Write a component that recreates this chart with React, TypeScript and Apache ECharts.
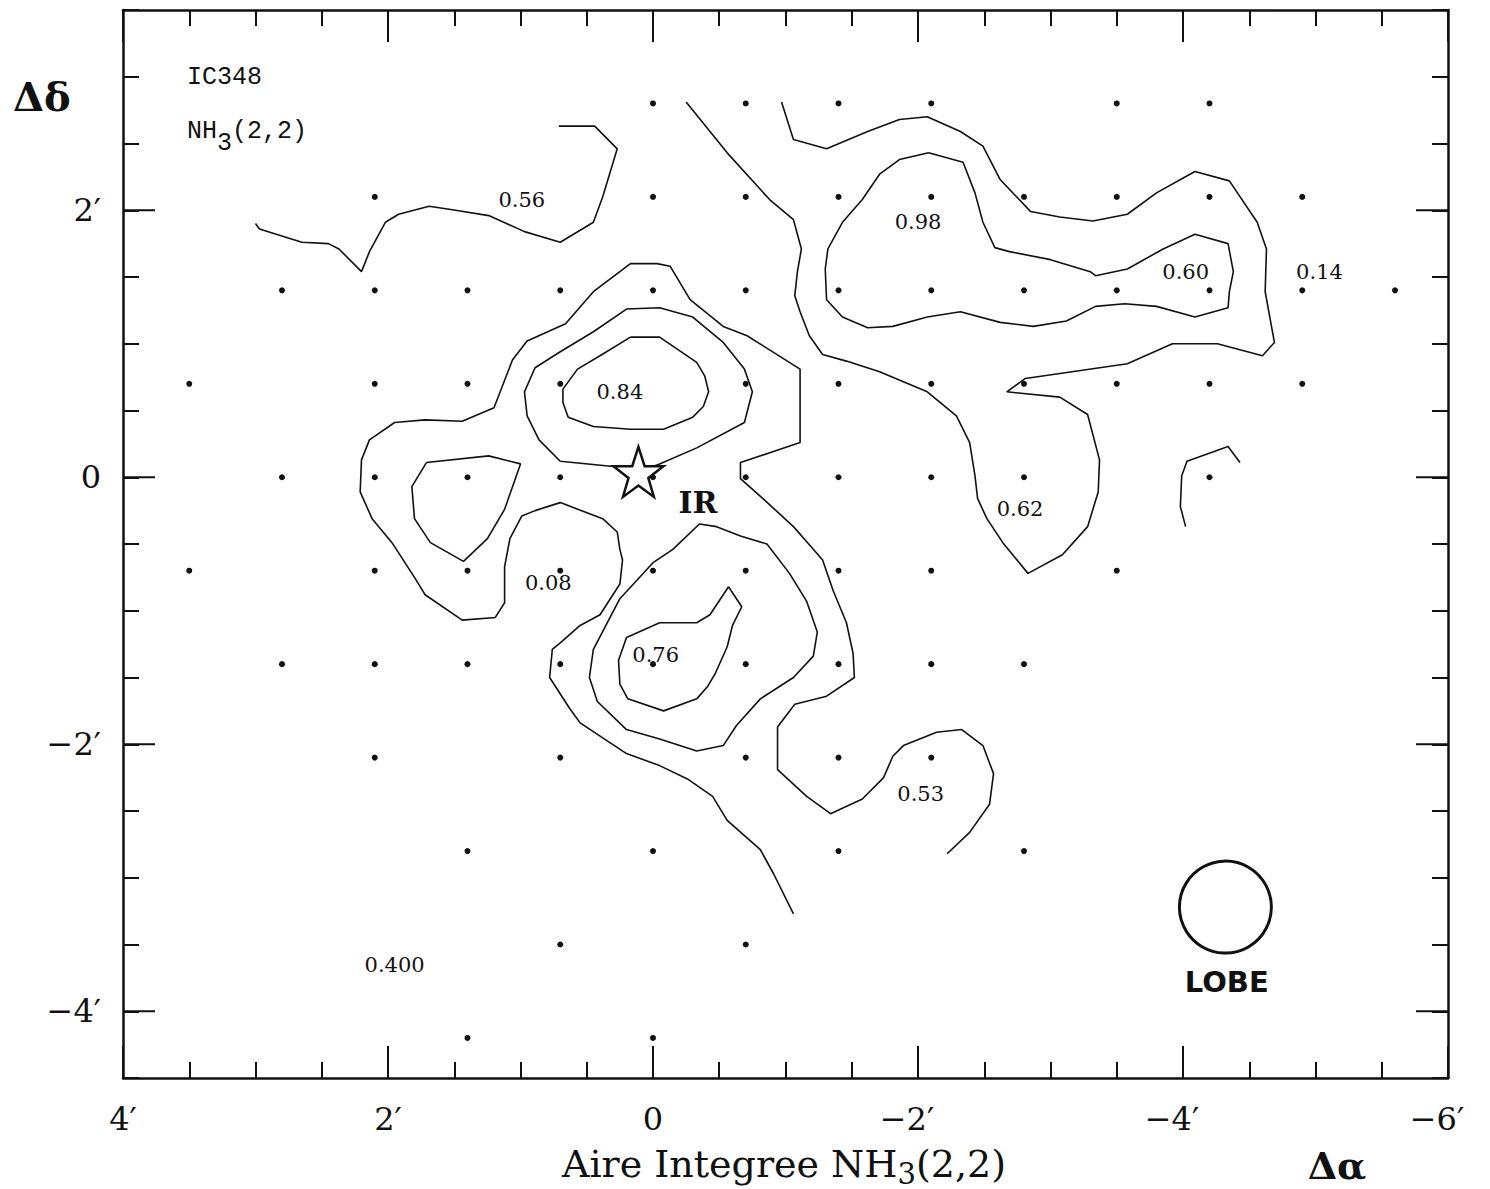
import React, { useEffect, useRef } from "react";
import * as echarts from "echarts";

// Axis extents (arcmin offsets)
const X_MIN = -6;
const X_MAX = 4;
const Y_MIN = -4.5;
const Y_MAX = 3.5;
const yMajorTicks = [-4, -2, 0, 2];

// Observed positions (grid rows, declination offsets) and RA offsets per row
const dotRowY = [2.8, 2.1, 1.4, 0.7, 0, -0.7, -1.4, -2.1, -2.8, -3.5, -4.2];
const dotRowXs = [
  [0, -0.7, -1.4, -2.1, -3.5, -4.2],
  [2.1, 0, -0.7, -1.4, -2.1, -2.8, -3.5, -4.2, -4.9],
  [2.8, 2.1, 1.4, 0.7, 0, -0.7, -1.4, -2.1, -2.8, -3.5, -4.2, -4.9, -5.6],
  [3.5, 2.1, 1.4, 0.7, -0.7, -1.4, -2.1, -2.8, -3.5, -4.2, -4.9],
  [2.8, 2.1, 1.4, 0.7, 0, -0.7, -1.4, -2.1, -2.8, -4.2],
  [3.5, 2.1, 1.4, 0.7, 0, -0.7, -1.4, -2.1, -3.5],
  [2.8, 2.1, 1.4, 0.7, 0, -0.7, -1.4, -2.1, -2.8],
  [2.1, 0.7, -0.7, -1.4, -2.1],
  [1.4, 0, -1.4, -2.8],
  [0.7, -0.7],
  [1.4, 0],
];

// Contour lines [dAlpha, dDelta]
const contourA = [[3.0, 1.9], [2.97, 1.86], [2.65, 1.76], [2.45, 1.75], [2.37, 1.71], [2.2, 1.54], [2.14, 1.69], [2.02, 1.91], [1.92, 1.97], [1.69, 2.03], [1.49, 2.0], [1.24, 1.96], [0.97, 1.84], [0.7, 1.76], [0.45, 1.91], [0.38, 2.1], [0.27, 2.46], [0.44, 2.63], [0.71, 2.63]];
const contourB = [[-0.25, 2.81], [-0.56, 2.43], [-0.88, 2.08], [-1.06, 1.93], [-1.12, 1.71], [-1.09, 1.54], [-1.07, 1.36], [-1.11, 1.24], [-1.18, 1.06], [-1.28, 0.92], [-1.46, 0.87], [-1.71, 0.79], [-2.07, 0.64], [-2.29, 0.46], [-2.39, 0.26], [-2.43, 0.01], [-2.45, -0.16], [-2.52, -0.31], [-2.64, -0.49], [-2.83, -0.72], [-3.09, -0.58], [-3.28, -0.37], [-3.36, -0.11], [-3.37, 0.13], [-3.28, 0.47], [-3.07, 0.6], [-2.67, 0.64], [-2.81, 0.74], [-3.58, 0.85], [-3.92, 1.0], [-4.26, 1.0], [-4.6, 0.91], [-4.69, 1.01], [-4.62, 1.39], [-4.63, 1.71], [-4.56, 1.91], [-4.35, 2.22], [-4.09, 2.29], [-3.8, 2.13], [-3.58, 1.97], [-3.32, 1.92], [-3.07, 1.95], [-2.85, 1.99], [-2.62, 2.23], [-2.49, 2.48], [-2.32, 2.59], [-2.07, 2.7], [-1.86, 2.68], [-1.62, 2.59], [-1.31, 2.46], [-1.06, 2.53], [-0.97, 2.81]];
const contourC = [[-2.08, 2.43], [-2.34, 2.36], [-2.43, 2.13], [-2.49, 1.91], [-2.58, 1.72], [-2.69, 1.69], [-3.0, 1.63], [-3.3, 1.54], [-3.34, 1.51], [-3.58, 1.56], [-3.85, 1.71], [-4.09, 1.82], [-4.34, 1.75], [-4.38, 1.54], [-4.35, 1.39], [-4.34, 1.27], [-4.09, 1.2], [-3.8, 1.28], [-3.56, 1.3], [-3.34, 1.28], [-3.12, 1.17], [-2.87, 1.13], [-2.62, 1.16], [-2.32, 1.24], [-2.07, 1.2], [-1.81, 1.13], [-1.62, 1.12], [-1.43, 1.2], [-1.31, 1.33], [-1.3, 1.56], [-1.32, 1.71], [-1.43, 1.91], [-1.58, 2.08], [-1.71, 2.27], [-1.86, 2.38], [-2.08, 2.43]];
const contourE = [[-4.02, -0.37], [-3.98, -0.22], [-3.99, 0.01], [-4.03, 0.12], [-4.34, 0.23], [-4.43, 0.11]];
const contourF = [[-2.22, -2.82], [-2.39, -2.66], [-2.54, -2.45], [-2.57, -2.22], [-2.49, -2.01], [-2.33, -1.89], [-2.14, -1.91], [-1.89, -2.01], [-1.81, -2.09], [-1.74, -2.25], [-1.58, -2.41], [-1.34, -2.52], [-1.16, -2.39], [-0.94, -2.19], [-0.94, -2.01], [-0.94, -1.87], [-1.07, -1.7], [-1.31, -1.64], [-1.52, -1.5], [-1.51, -1.32], [-1.46, -1.09], [-1.36, -0.85], [-1.28, -0.62], [-1.21, -0.54], [-1.06, -0.37], [-0.83, -0.16], [-0.66, -0.01], [-0.66, 0.11], [-1.11, 0.26], [-1.11, 0.81], [-0.71, 1.06], [-0.53, 1.13], [-0.28, 1.33], [-0.13, 1.58], [-0.03, 1.6], [0.17, 1.6], [0.45, 1.39], [0.66, 1.15], [0.95, 1.02], [1.06, 0.88], [1.2, 0.52], [1.44, 0.42], [1.72, 0.43], [1.95, 0.41], [2.14, 0.28], [2.2, 0.13], [2.21, -0.11], [2.12, -0.31], [1.97, -0.49], [1.8, -0.75], [1.72, -0.88], [1.44, -1.07], [1.19, -1.05], [1.12, -0.94], [1.12, -0.67], [1.08, -0.46], [0.99, -0.29], [0.89, -0.25], [0.7, -0.19], [0.38, -0.31], [0.27, -0.41], [0.25, -0.54], [0.23, -0.62], [0.25, -0.8], [0.4, -1.03], [0.55, -1.11], [0.7, -1.24], [0.76, -1.29], [0.78, -1.5], [0.63, -1.73], [0.55, -1.84], [0.2, -2.07], [-0.05, -2.16], [-0.26, -2.26], [-0.45, -2.39], [-0.56, -2.57], [-0.81, -2.79], [-0.91, -2.97], [-1.06, -3.27]];
const contourG = [[0.7, 0.12], [0.3, 0.08], [0.12, 0.04], [-0.05, 0.1], [-0.33, 0.22], [-0.69, 0.41], [-0.75, 0.64], [-0.69, 0.81], [-0.53, 1.01], [-0.3, 1.2], [-0.05, 1.27], [0.2, 1.26], [0.45, 1.09], [0.7, 0.94], [0.89, 0.82], [0.97, 0.64], [0.95, 0.46], [0.86, 0.28], [0.7, 0.12]];
const contourH = [[1.71, 0.11], [1.24, 0.16], [1.0, 0.1], [1.12, -0.24], [1.25, -0.46], [1.43, -0.63], [1.68, -0.49], [1.8, -0.31], [1.82, -0.07], [1.71, 0.11]];
const contourI = [[0.17, 1.05], [-0.05, 1.05], [-0.33, 0.86], [-0.39, 0.76], [-0.42, 0.64], [-0.38, 0.53], [-0.3, 0.45], [-0.08, 0.36], [0.17, 0.36], [0.45, 0.38], [0.64, 0.45], [0.68, 0.56], [0.68, 0.66], [0.57, 0.81], [0.4, 0.91], [0.17, 1.05]];
const contourJ = [[-0.15, -0.54], [-0.35, -0.35], [-0.48, -0.37], [-0.66, -0.44], [-0.86, -0.5], [-1.03, -0.72], [-1.16, -0.93], [-1.24, -1.16], [-1.21, -1.34], [-1.06, -1.5], [-0.81, -1.66], [-0.63, -1.86], [-0.53, -2.01], [-0.33, -2.05], [-0.05, -1.96], [0.2, -1.89], [0.42, -1.68], [0.48, -1.5], [0.45, -1.29], [0.25, -0.91], [0.0, -0.64], [-0.15, -0.54]];
const contourK = [[-0.57, -0.82], [-0.67, -0.97], [-0.6, -1.11], [-0.56, -1.27], [-0.47, -1.47], [-0.41, -1.57], [-0.33, -1.66], [-0.08, -1.75], [0.19, -1.66], [0.25, -1.55], [0.26, -1.37], [0.2, -1.2], [-0.05, -1.09], [-0.33, -1.09], [-0.43, -1.03], [-0.57, -0.82]];
const contours = [contourA, contourB, contourC, contourE, contourF, contourG, contourH, contourI, contourJ, contourK];

// Contour value labels
const labelTexts = ["0.56", "0.98", "0.60", "0.14", "0.84", "0.62", "0.08", "0.76", "0.53", "0.400"];
const labelX = [0.99, -2.0, -4.02, -5.03, 0.25, -2.77, 0.79, -0.02, -2.02, 1.95];
const labelY = [2.08, 1.91, 1.54, 1.54, 0.64, -0.24, -0.79, -1.33, -2.37, -3.65];

// Markers
const starPos = [0.11, 0.04];
const irPos = [-0.34, -0.19];
const lobePos = [-4.32, -3.22];
const lobeLabelPos = [-4.33, -3.78];

const STAR_PATH =
  "path://M50,0 L61.8,35.1 L97.6,35.1 L68.9,56.7 L79.4,91 L50,70.4 L20.6,91 L31.1,56.7 L2.4,35.1 L38.2,35.1 Z";

const INK = "#111111";
const SERIF = "'DejaVu Serif', 'Liberation Serif', serif";

function fmtTick(v: number): string {
  if (Math.abs(v) < 1e-9) return "0";
  return (v < 0 ? "\u2212" : "") + Math.abs(v) + "\u2032";
}

export default function App() {
  const ref = useRef<HTMLDivElement>(null);

  useEffect(() => {
    if (!ref.current) return;
    const chart = echarts.init(ref.current, undefined, { renderer: "svg" });

    const dots: number[][] = [];
    dotRowY.forEach((y, i) => dotRowXs[i].forEach((x) => dots.push([x, y])));

    const xAxisBase = {
      type: "value",
      min: X_MIN,
      max: X_MAX,
      inverse: true,
      interval: 2,
      splitLine: { show: false },
      axisLine: { show: true, onZero: false, lineStyle: { color: INK, width: 2.5 } },
      axisTick: { show: true, inside: true, length: 32, lineStyle: { color: INK, width: 2 } },
      minorTick: { show: true, splitNumber: 4, length: 16, lineStyle: { color: INK, width: 2 } },
    };
    const yAxisBase = {
      type: "value",
      min: Y_MIN,
      max: Y_MAX,
      interval: 0.5,
      splitLine: { show: false },
      axisLine: { show: true, onZero: false, lineStyle: { color: INK, width: 2.5 } },
      axisTick: { show: true, inside: true, length: 16, lineStyle: { color: INK, width: 2 } },
    };

    const contourSeries = contours.map((c) => ({
      type: "line",
      data: c,
      symbol: "none",
      showSymbol: false,
      silent: true,
      z: 2,
      lineStyle: { color: INK, width: 1.6 },
    }));

    const textMarker = (name: string, value: number[], label: any) => ({
      type: "scatter",
      data: [{ name, value }],
      symbolSize: 1,
      silent: true,
      z: 6,
      itemStyle: { color: "transparent", opacity: 1 },
      label: { show: true, position: "inside", formatter: "{b}", color: INK, ...label },
    });

    const option = {
      animation: false,
      backgroundColor: "#ffffff",
      grid: { left: 123, top: 10, right: 42, bottom: 111, containLabel: false },
      xAxis: [
        {
          ...xAxisBase,
          position: "bottom",
          axisLabel: {
            show: true,
            margin: 25,
            color: INK,
            fontFamily: SERIF,
            fontSize: 32,
            formatter: (v: number) => (v < 0 ? "{m|" + fmtTick(v) + "}" : fmtTick(v)),
            rich: {
              m: { fontFamily: SERIF, fontSize: 32, color: INK, padding: [0, 22, 0, 0] },
            },
          },
        },
        { ...xAxisBase, position: "top", axisLabel: { show: false } },
      ],
      yAxis: [
        {
          ...yAxisBase,
          position: "left",
          axisLabel: {
            show: true,
            margin: 22,
            color: INK,
            fontFamily: SERIF,
            fontSize: 32,
            formatter: (v: number) =>
              yMajorTicks.some((t) => Math.abs(t - v) < 1e-6) ? fmtTick(v) : "",
          },
        },
        { ...yAxisBase, position: "right", axisLabel: { show: false } },
      ],
      graphic: [
        {
          type: "text",
          left: 13,
          top: 76,
          style: { text: "\u0394\u03b4", fontFamily: SERIF, fontWeight: "bold", fontSize: 40, fill: INK },
        },
        {
          type: "text",
          x: 187,
          y: 77,
          style: { text: "IC348", fontFamily: "'Liberation Mono', monospace", fontSize: 25, fill: INK, textVerticalAlign: "middle" },
        },
        {
          type: "text",
          x: 187,
          y: 131,
          style: { text: "NH", fontFamily: "'Liberation Mono', monospace", fontSize: 25, fill: INK, textVerticalAlign: "middle" },
        },
        {
          type: "text",
          x: 217,
          y: 143,
          style: { text: "3", fontFamily: "'Liberation Mono', monospace", fontSize: 25, fill: INK, textVerticalAlign: "middle" },
        },
        {
          type: "text",
          x: 232,
          y: 131,
          style: { text: "(2,2)", fontFamily: "'Liberation Mono', monospace", fontSize: 25, fill: INK, textVerticalAlign: "middle" },
        },
        {
          type: "text",
          x: 784,
          y: 1164,
          style: {
            text: "{n|Aire Integree NH}{s|3}{n|(2,2)}",
            textAlign: "center",
            textVerticalAlign: "middle",
            fill: INK,
            rich: {
              n: { fontFamily: SERIF, fontSize: 38, lineHeight: 48, verticalAlign: "middle", fill: INK },
              s: { fontFamily: SERIF, fontSize: 29, lineHeight: 29, verticalAlign: "bottom", fill: INK },
            },
          },
        },
        {
          type: "text",
          x: 1337,
          y: 1165,
          style: {
            text: "\u0394\u03b1",
            textAlign: "center",
            textVerticalAlign: "middle",
            fontFamily: SERIF,
            fontWeight: "bold",
            fontSize: 38,
            fill: INK,
          },
        },
      ],
      series: [
        ...contourSeries,
        {
          type: "scatter",
          data: dots,
          symbol: "circle",
          symbolSize: 6,
          silent: true,
          z: 3,
          itemStyle: { color: INK, opacity: 1 },
        },
        {
          type: "scatter",
          data: labelTexts.map((t, i) => ({ name: t, value: [labelX[i], labelY[i]] })),
          symbolSize: 1,
          silent: true,
          z: 4,
          itemStyle: { color: "transparent", opacity: 1 },
          label: {
            show: true,
            position: "inside",
            formatter: "{b}",
            fontFamily: SERIF,
            fontSize: 21,
            color: INK,
          },
        },
        {
          type: "scatter",
          data: [starPos],
          symbol: STAR_PATH,
          symbolSize: 50,
          silent: true,
          z: 6,
          itemStyle: { color: "#ffffff", borderColor: INK, borderWidth: 2.5, opacity: 1 },
        },
        textMarker("IR", irPos, { fontFamily: SERIF, fontWeight: "bold", fontSize: 30 }),
        {
          type: "scatter",
          data: [lobePos],
          symbol: "circle",
          symbolSize: 92,
          silent: true,
          z: 6,
          itemStyle: { color: "transparent", borderColor: INK, borderWidth: 3, opacity: 1 },
        },
        textMarker("LOBE", lobeLabelPos, { fontFamily: "'DejaVu Sans', sans-serif", fontWeight: "bold", fontSize: 29 }),
        {
          type: "custom",
          data: yMajorTicks.map((v) => [X_MAX, v]),
          silent: true,
          z: 5,
          renderItem: (params: any, api: any) => {
            const v = api.value(1);
            const l = api.coord([X_MAX, v]);
            const r = api.coord([X_MIN, v]);
            const st = { stroke: INK, lineWidth: 2 };
            return {
              type: "group",
              children: [
                { type: "line", shape: { x1: l[0], y1: l[1], x2: l[0] + 32, y2: l[1] }, style: st },
                { type: "line", shape: { x1: r[0], y1: r[1], x2: r[0] - 32, y2: r[1] }, style: st },
              ],
            };
          },
        },
      ],
    };

    chart.setOption(option as any);
    return () => chart.dispose();
  }, []);

  return (
    <div
      ref={ref}
      style={{ position: "absolute", left: 0, top: 0, width: 1490, height: 1189, background: "#ffffff" }}
    />
  );
}
